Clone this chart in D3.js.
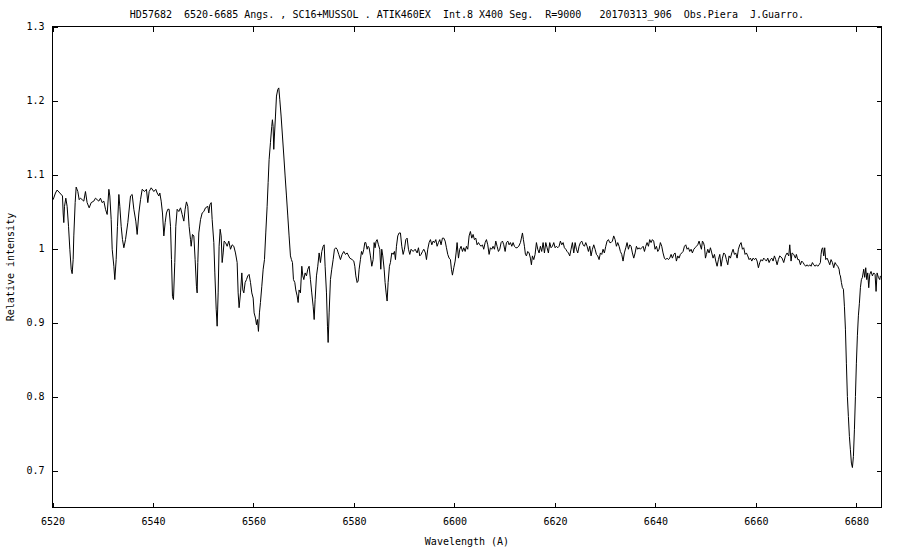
<!DOCTYPE html>
<html>
<head>
<meta charset="utf-8">
<script src="https://cdn.jsdelivr.net/npm/d3@7"></script>
<style>
  html, body { margin: 0; padding: 0; background: #fff; }
  svg { display: block; }
  text { font-family: "DejaVu Sans Mono", "Liberation Mono", monospace; font-size: 10px; fill: #000; white-space: pre; }
</style>
</head>
<body>
<svg id="chart" width="900" height="550"></svg>
<script>
// ---- Data ----
const titleText = "HD57682  6520-6685 Angs. , SC16+MUSSOL . ATIK460EX  Int.8 X400 Seg.  R=9000   20170313_906  Obs.Piera  J.Guarro.";
const xLabel = "Wavelength (A)";
const yLabel = "Relative intensity";
const xDomain = [6520, 6685];
const yDomain = [0.65, 1.3];
const xTicks = [6520, 6540, 6560, 6580, 6600, 6620, 6640, 6660, 6680];
const xTickLabels = ["6520", "6540", "6560", "6580", "6600", "6620", "6640", "6660", "6680"];
const yTicks = [0.7, 0.8, 0.9, 1.0, 1.1, 1.2, 1.3];
const yTickLabels = ["0.7", "0.8", "0.9", "1", "1.1", "1.2", "1.3"];

const wavelength = [
6520.13,6520.59,6520.92,6521.46,6521.99,6522.12,6522.25,6522.39,6522.65,6522.91,6523.19,6523.45,6523.72,6523.91,6524.11,6524.24,6524.51,6524.71,6525.04,6525.31,
6525.57,6525.90,6526.23,6526.56,6526.89,6527.30,6527.70,6528.22,6528.55,6528.88,6529.22,6529.55,6529.88,6530.22,6530.55,6530.88,6531.22,6531.41,6531.68,6531.88,
6532.21,6532.40,6532.67,6532.93,6533.21,6533.40,6533.67,6533.93,6534.20,6534.53,6534.99,6535.53,6535.86,6536.19,6536.58,6536.85,6537.19,6537.52,6537.85,6538.31,
6538.70,6538.97,6539.24,6539.64,6540.17,6540.56,6540.83,6541.16,6541.36,6541.63,6541.89,6542.16,6542.42,6542.68,6542.95,6543.21,6543.49,6543.68,6543.88,6544.08,
6544.34,6544.54,6544.81,6545.14,6545.48,6545.81,6546.14,6546.40,6546.66,6546.93,6547.19,6547.47,6547.60,6547.86,6548.13,6548.39,6548.65,6548.79,
6548.92,6549.12,6549.46,6549.79,6550.12,6550.45,6550.91,6551.11,6551.32,6551.59,6551.78,6552.11,6552.31,6552.58,6552.77,6552.97,6553.16,6553.37,6553.57,6553.77,
6553.97,6554.16,6554.43,6554.76,6555.09,6555.43,6555.76,6556.09,6556.42,6556.75,6556.95,6557.14,6557.42,6557.68,6557.88,6558.08,6558.34,6558.61,6558.87,6559.13,
6559.41,6559.67,6559.94,6560.13,6560.40,6560.60,6560.79,6560.99,6561.19,6561.39,6561.66,6561.93,6562.19,6562.45,6562.72,6562.92,6563.11,6563.38,6563.64,6563.77,
6563.91,6564.04,6564.17,6564.38,6564.58,6564.84,6565.04,6565.24,6565.50,6565.77,6566.04,6566.30,6566.57,6566.83,6567.09,6567.36,6567.56,6567.76,6567.96,6568.23,
6568.42,6568.69,6568.89,6569.08,6569.35,6569.62,6569.82,6570.02,6570.28,6570.55,6570.81,6571.08,6571.34,6571.60,6571.88,6572.08,6572.27,6572.54,6572.80,6573.07,
6573.33,6573.60,6573.87,6574.07,6574.26,6574.53,6574.73,6574.86,6575.06,6575.32,6575.58,6575.86,6576.12,6576.39,6576.65,6576.98,6577.31,6577.64,6577.97,6578.31,
6578.64,6579.17,
6579.64,6579.97,6580.17,6580.37,6580.63,6580.83,6581.03,6581.29,6581.50,6581.70,6581.96,6582.16,6582.36,6582.62,6582.82,6583.02,6583.28,6583.55,6583.82,6584.02,
6584.21,6584.41,6584.61,6584.87,6585.14,6585.34,6585.53,6585.74,6586.01,6586.20,6586.40,6586.60,6586.80,6587.06,6587.26,6587.53,6587.80,6588.06,6588.26,6588.46,
6588.72,6588.99,6589.25,6589.52,6589.79,6590.05,6590.32,6590.58,6590.85,6591.11,6591.37,6591.78,6592.18,6592.57,6592.84,6593.10,6593.36,6593.64,6593.90,6594.23,
6594.43,6594.69,6594.96,6595.22,6595.50,6595.76,6596.02,6596.29,6596.55,6596.82,6597.08,6597.34,6597.61,6597.88,6598.15,6598.41,6598.67,6598.94,6599.20,6599.40,
6599.60,6599.87,6600.14,6600.33,6600.53,6600.80,6601.06,6601.32,6601.60,6601.86,6602.13,6602.39,6602.65,6602.92,6603.18,6603.45,6603.71,6603.98,6604.25,6604.51,
6604.78,6605.04,6605.30,6605.57,6605.83,6606.11,6606.37,6606.63,6606.90,6607.16,6607.43,6607.69,6607.97,6608.23,6608.49,6608.76,6609.02,6609.29,6609.56,6609.82,
6610.09,6610.35,6610.62,6610.88,6611.14,6611.41,6611.67,6611.94,6612.21,6612.47,6612.80,6613.13,
6613.33,6613.54,6613.73,6613.93,6614.13,6614.33,6614.59,6614.86,6615.12,6615.32,6615.52,6615.79,6616.05,6616.32,6616.58,6616.85,6617.11,6617.37,6617.65,6617.91,
6618.18,6618.44,6618.70,6618.97,6619.23,6619.50,6619.77,6620.04,6620.30,6620.56,6620.83,6621.09,6621.36,6621.63,6621.89,6622.16,6622.42,6622.69,6622.95,6623.21,
6623.48,6623.75,6624.02,6624.28,6624.54,6624.81,6625.07,6625.34,6625.61,6625.87,6626.14,6626.40,6626.67,6626.93,6627.19,6627.46,6627.73,6628.00,6628.26,6628.52,
6628.79,6629.05,6629.32,6629.58,6629.84,6630.12,6630.38,6630.65,6630.91,6631.17,6631.44,6631.70,6631.98,6632.24,6632.50,6632.77,6633.03,6633.30,6633.56,6633.82,
6634.10,6634.36,6634.63,6634.89,6635.15,6635.42,6635.69,6635.96,6636.22,6636.48,6636.75,6637.01,6637.28,6637.55,6637.82,6638.08,6638.34,6638.61,6638.87,6639.14,
6639.40,6639.66,6639.93,6640.20,6640.47,6640.73,6640.99,6641.26,6641.52,6641.79,6642.05,6642.32,6642.59,6642.85,6643.12,6643.38,6643.65,6643.92,6644.18,6644.45,
6644.71,6644.97,6645.24,6645.51,6645.78,6646.04,6646.31,6646.57,6646.83,6647.10,6647.36,6647.64,6647.90,6648.16,6648.43,6648.69,
6649.16,6649.36,6649.56,6649.76,6649.96,6650.15,6650.42,6650.68,6650.95,6651.22,6651.48,6651.75,6652.01,6652.28,6652.54,6652.81,6653.07,6653.34,6653.60,6653.87,
6654.13,6654.40,6654.66,6654.93,6655.20,6655.46,6655.73,6655.99,6656.26,6656.52,6656.79,6657.05,6657.32,6657.58,6657.85,6658.11,6658.38,6658.65,6658.91,6659.18,
6659.44,6659.71,6659.97,6660.24,6660.50,6660.77,6661.03,6661.30,6661.56,6661.83,6662.09,6662.36,6662.63,6662.89,6663.16,6663.42,6663.69,6663.95,6664.22,6664.48,
6664.75,
6665.21,6665.54,6665.88,6666.21,6666.54,6666.74,6667.00,6667.20,6667.53,6667.87,6668.06,6668.33,6668.59,6668.86,6669.13,6669.39,6669.66,6669.92,6670.19,6670.45,
6670.72,6670.98,6671.25,6671.51,6671.78,6672.04,6672.31,6672.57,6672.84,6672.97,6673.11,6673.30,6673.50,6673.70,6673.90,6674.17,6674.43,6674.70,6674.96,6675.23,
6675.49,6675.76,6676.02,6676.29,6676.56,6676.69,6676.82,6677.02,6677.22,6677.42,6677.62,6677.82,6678.01,6678.21,6678.41,6678.61,6678.81,6679.01,6679.21,6679.41,
6679.61,6679.81,6680.00,6680.20,6680.40,6680.60,6680.80,6681.00,6681.20,6681.46,6681.66,6681.86,6682.06,6682.26,6682.46,6682.66,6682.92,6683.19,6683.45,6683.72,
6683.92,6684.12,6684.38,6684.65,6684.78
];

const intensity = [
1.066,1.075,1.079,1.075,1.071,1.048,1.035,1.057,1.068,1.057,1.030,0.999,0.972,0.966,0.985,1.017,1.062,1.083,1.077,1.066,
1.068,1.066,1.064,1.077,1.062,1.055,1.062,1.064,1.068,1.066,1.064,1.068,1.062,1.064,1.053,1.046,1.080,1.071,1.039,0.999,
0.976,0.958,0.985,1.030,1.073,1.057,1.030,1.012,1.001,1.012,1.035,1.071,1.073,1.053,1.037,1.019,1.048,1.066,1.080,1.077,
1.080,1.062,1.077,1.082,1.077,1.080,1.075,1.071,1.075,1.064,1.048,1.017,1.035,1.048,1.053,1.053,1.030,0.985,0.935,0.931,
0.981,1.030,1.053,1.050,1.055,1.046,1.037,1.053,1.063,1.057,1.030,1.012,1.003,1.019,1.017,0.985,0.949,0.940,
0.981,1.021,1.039,1.048,1.050,1.055,1.057,1.048,1.059,1.062,1.039,1.008,0.967,0.918,0.895,0.940,1.003,1.026,1.017,0.981,
0.994,1.010,1.008,1.003,1.010,0.999,1.005,1.003,0.994,0.981,0.940,0.920,0.940,0.967,0.944,0.940,0.954,0.958,0.963,0.965,
0.954,0.940,0.933,0.913,0.906,0.897,0.904,0.888,0.913,0.927,0.949,0.972,0.985,1.021,1.057,1.089,1.120,1.143,1.165,1.174,
1.165,1.134,1.152,1.179,1.206,1.215,1.217,1.201,1.179,1.152,1.125,1.098,1.071,1.044,1.017,0.990,0.985,0.981,0.958,0.954,
0.944,0.936,0.927,0.944,0.940,0.976,0.963,0.958,0.967,0.963,0.972,0.976,0.958,0.940,0.922,0.904,0.931,0.963,0.976,0.994,
0.981,0.996,1.003,1.005,0.976,0.940,0.895,0.873,0.913,0.958,0.972,0.985,0.999,1.001,0.999,0.992,0.985,0.992,0.996,0.992,
0.994,0.987,
0.985,0.983,0.976,0.963,0.954,0.956,0.972,0.985,0.996,0.992,0.999,1.008,1.008,0.999,1.003,1.001,0.990,0.976,0.985,1.008,
1.001,1.010,1.012,1.005,0.999,0.972,0.999,0.990,0.972,0.954,0.940,0.929,0.954,0.976,0.981,0.994,0.992,0.996,0.985,1.003,
1.017,1.021,1.021,1.003,0.992,0.999,1.012,1.014,0.999,0.992,0.999,0.996,0.999,0.994,1.001,0.990,0.992,0.996,0.999,0.994,
0.985,0.999,1.008,1.012,1.005,1.010,1.008,1.012,1.003,1.008,1.012,1.005,1.014,1.014,1.010,1.001,0.992,0.987,0.985,0.972,
0.964,0.974,0.983,0.994,1.008,0.987,0.999,1.003,0.996,1.001,0.996,1.003,0.999,1.017,1.023,1.014,1.019,1.012,1.014,1.005,
1.008,1.005,1.003,1.005,0.999,1.008,1.012,1.005,0.992,1.001,0.999,1.003,0.999,1.010,1.003,0.996,0.999,1.008,1.010,1.005,
0.996,1.008,1.010,1.005,1.008,1.003,1.008,1.003,1.001,1.001,1.003,1.008,
1.014,1.021,1.012,1.003,0.992,0.990,0.996,0.994,0.987,0.978,0.990,0.985,0.992,1.008,0.999,0.994,1.003,0.996,1.008,0.994,
1.008,1.001,0.994,1.008,1.001,1.003,1.008,1.001,1.003,1.001,1.003,1.010,1.005,1.008,1.001,0.999,0.996,0.994,0.990,0.999,
1.008,0.994,1.008,0.999,0.994,1.003,1.008,1.010,1.005,1.003,1.008,1.003,0.996,1.003,0.990,0.999,1.005,0.999,0.992,0.990,
0.985,0.994,0.992,0.999,0.994,1.003,1.010,1.012,1.008,1.008,1.010,1.017,1.012,1.003,1.008,1.003,0.996,0.992,0.983,0.994,
1.001,1.008,0.999,1.005,1.003,0.994,0.987,0.994,1.003,0.999,1.001,0.999,1.001,1.003,0.996,1.003,1.008,1.003,1.012,1.008,
1.012,1.010,0.999,1.003,0.996,0.999,1.008,1.003,0.994,0.987,0.985,0.987,0.985,0.987,0.992,0.987,0.992,0.994,0.983,0.990,
0.987,0.992,0.994,0.996,1.003,1.005,0.999,1.001,0.996,0.999,0.994,0.999,1.001,1.003,1.005,1.010,
0.999,1.010,1.008,1.003,0.987,0.992,0.999,0.994,1.001,0.994,0.987,0.992,0.983,0.976,0.985,0.992,0.976,0.987,0.994,0.992,
0.985,0.978,0.990,0.987,0.994,0.999,0.992,0.994,0.987,0.999,1.005,1.008,0.999,1.001,0.992,0.994,0.990,0.985,0.987,0.983,
0.987,0.985,0.987,0.983,0.974,0.981,0.985,0.983,0.987,0.985,0.983,0.987,0.981,0.985,0.987,0.983,0.990,0.985,0.978,0.985,
0.990,
0.987,0.981,0.990,0.994,0.990,1.005,0.983,0.994,0.992,0.987,0.992,0.985,0.985,0.978,0.983,0.981,0.978,0.976,0.978,0.976,
0.978,0.976,0.981,0.978,0.976,0.978,0.976,0.978,0.981,0.992,0.999,1.001,0.990,1.001,0.985,0.987,0.983,0.978,0.985,0.981,
0.974,0.981,0.978,0.976,0.972,0.965,0.963,0.954,0.947,0.945,0.922,0.891,0.845,0.800,0.773,0.746,0.728,0.710,0.704,0.719,
0.755,0.800,0.845,0.882,0.909,0.926,0.947,0.958,0.961,0.972,0.961,0.974,0.958,0.967,0.947,0.965,0.969,0.963,0.967,0.965,
0.942,0.967,0.961,0.958,0.963
];

// ---- Chart ----
const plotL = 52.5, plotR = 881.5, plotT = 26.5, plotB = 507.5;
const svg = d3.select("#chart");

const x = d3.scaleLinear().domain(xDomain).range([plotL, plotR]);
const y = d3.scaleLinear().domain(yDomain).range([plotB, plotT]);

const points = wavelength.map((w, i) => [w, intensity[i]]);

// axes with inward ticks on all four sides
const tickLen = 5;
const gx = svg.append("g").attr("transform", `translate(0,${plotB})`)
  .call(d3.axisBottom(x).tickValues(xTicks).tickSize(-tickLen).tickPadding(10)
    .tickFormat((d, i) => xTickLabels[i]));
const gxt = svg.append("g").attr("transform", `translate(0,${plotT})`)
  .call(d3.axisTop(x).tickValues(xTicks).tickSize(-tickLen).tickFormat(""));
const gy = svg.append("g").attr("transform", `translate(${plotL},0)`)
  .call(d3.axisLeft(y).tickValues(yTicks).tickSize(-tickLen).tickPadding(8)
    .tickFormat((d, i) => yTickLabels[i]));
const gyr = svg.append("g").attr("transform", `translate(${plotR},0)`)
  .call(d3.axisRight(y).tickValues(yTicks).tickSize(-tickLen).tickFormat(""));

[gx, gxt, gy, gyr].forEach(g => {
  g.select(".domain").remove();
  g.selectAll(".tick line").attr("stroke", "#000").attr("shape-rendering", "crispEdges");
  g.selectAll("text").attr("fill", "#000");
  g.attr("font-family", null).attr("font-size", null);
});

// frame
svg.append("rect")
  .attr("x", plotL).attr("y", plotT)
  .attr("width", plotR - plotL).attr("height", plotB - plotT)
  .attr("fill", "none").attr("stroke", "#000").attr("stroke-width", 1)
  .attr("shape-rendering", "crispEdges");

// spectrum line
svg.append("path")
  .datum(points)
  .attr("fill", "none")
  .attr("stroke", "#000")
  .attr("stroke-width", 1)
  .attr("d", d3.line().x(d => x(d[0])).y(d => y(d[1])));

// title and axis labels
svg.append("text")
  .attr("x", (plotL + plotR) / 2).attr("y", 18)
  .attr("text-anchor", "middle")
  .attr("xml:space", "preserve")
  .text(titleText);

svg.append("text")
  .attr("x", (plotL + plotR) / 2).attr("y", 545)
  .attr("text-anchor", "middle")
  .text(xLabel);

svg.append("text")
  .attr("transform", `translate(14,${(plotT + plotB) / 2}) rotate(-90)`)
  .attr("text-anchor", "middle")
  .text(yLabel);
</script>
</body>
</html>
